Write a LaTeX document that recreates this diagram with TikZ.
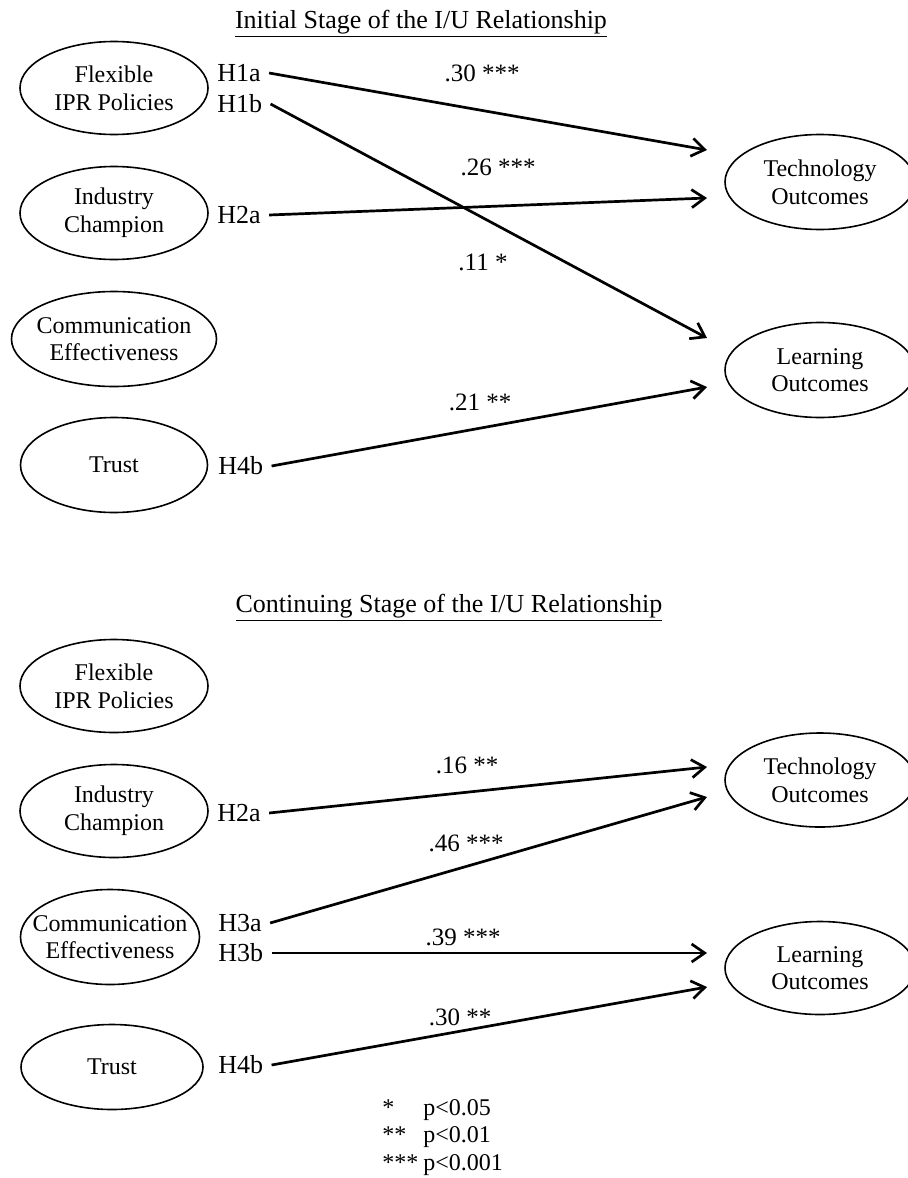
\documentclass[tikz,border=0pt]{standalone}
\usepackage{fontspec}
\setmainfont{Liberation Serif}
\usetikzlibrary{shapes.geometric, arrows.meta}

\begin{document}
\begin{tikzpicture}[x=0.5pt, y=-0.5pt,
    every node/.style={font=\fontsize{12}{13.8}\selectfont},
    construct/.style={ellipse,draw,line width=0.8pt,align=center,
        inner xsep=-8pt,inner ysep=0pt},
    hyp/.style={anchor=west,inner xsep=4pt,inner ysep=1pt,
        font=\fontsize{13}{15}\selectfont},
    coef/.style={inner sep=1pt,font=\fontsize{12.5}{14}\selectfont},
    stagetitle/.style={anchor=base,inner sep=0pt,
        font=\fontsize{13}{15}\selectfont},
    effect/.style={-{Straight Barb[length=6.5pt,width=9pt]},line width=1.35pt}
]
\useasboundingbox (0,0) rectangle (907,1178);

% initial stage
\node[stagetitle] (title1) at (421,28) {\underline{Initial Stage of the I/U Relationship}};
\node[construct, minimum width=94pt, minimum height=46.5pt] (flex1) at (114,88)
    {Flexible\\IPR Policies};
\node[construct, minimum width=94pt, minimum height=46.5pt] (ind1) at (114,213)
    {Industry\\Champion};
\node[construct, minimum width=102.5pt, minimum height=47.5pt] (comm1) at (114,339)
    {Communication\\Effectiveness};
\node[construct, minimum width=93.5pt, minimum height=47.5pt] (trust1) at (114,465)
    {Trust};
\node[construct, minimum width=95pt, minimum height=47.5pt] (tech1) at (820,182)
    {Technology\\Outcomes};
\node[construct, minimum width=95pt, minimum height=47.5pt] (learn1) at (820,370)
    {Learning\\Outcomes};

\node[hyp] (h1a1) at (209,73) {H1a};
\node[hyp] (h1b1) at (209,104) {H1b};
\node[hyp] (h2a1) at (209,215) {H2a};
\node[hyp] (h4b1) at (210,466) {H4b};

\coordinate (tipA1) at (707,150);
\coordinate (tipB1) at (707,338);
\coordinate (tipC1) at (707,198);
\coordinate (tipD1) at (707,387);

\draw[effect] (h1a1.east) -- (tipA1);
\draw[effect] (h1b1.east) -- (tipB1);
\draw[effect] (h2a1.east) -- (tipC1);
\draw[effect] (h4b1.east) -- (tipD1);

\node[coef] (c1) at (482,73) {.30 ***};
\node[coef] (c2) at (498,167) {.26 ***};
\node[coef] (c3) at (483,262) {.11 *};
\node[coef] (c4) at (480,402) {.21 **};

% continuing stage
\node[stagetitle] (title2) at (449,612) {\underline{Continuing Stage of the I/U Relationship}};
\node[construct, minimum width=94pt, minimum height=46.5pt] (flex2) at (114,686)
    {Flexible\\IPR Policies};
\node[construct, minimum width=94pt, minimum height=46.5pt] (ind2) at (114,811)
    {Industry\\Champion};
\node[construct, minimum width=89.5pt, minimum height=47.5pt] (comm2) at (110,937)
    {Communication\\Effectiveness};
\node[construct, minimum width=91pt, minimum height=42.5pt] (trust2) at (112,1067)
    {Trust};
\node[construct, minimum width=95pt, minimum height=47pt] (tech2) at (820,780)
    {Technology\\Outcomes};
\node[construct, minimum width=95pt, minimum height=46.5pt] (learn2) at (820,968)
    {Learning\\Outcomes};

\node[hyp] (h2a2) at (209,813) {H2a};
\node[hyp] (h3a2) at (210,923) {H3a};
\node[hyp] (h3b2) at (210,953) {H3b};
\node[hyp] (h4b2) at (210,1065) {H4b};

\coordinate (tipA2) at (707,767);
\coordinate (tipB2) at (707,797);
\coordinate (tipC2) at (707,953);
\coordinate (tipD2) at (707,987);

\draw[effect] (h2a2.east) -- (tipA2);
\draw[effect] (h3a2.east) -- (tipB2);
\draw[effect] (h3b2.east) -- (tipC2);
\draw[effect] (h4b2.east) -- (tipD2);

\node[coef] (c5) at (467,765) {.16 **};
\node[coef] (c6) at (466,843) {.46 ***};
\node[coef] (c7) at (463,937) {.39 ***};
\node[coef] (c8) at (460,1017) {.30 **};

% significance levels
\node[anchor=base west, inner sep=0pt] (legend) at (382,1115)
    {\begin{tabular}[t]{@{}l@{\hspace{2.5pt}}l@{}}
     {*}   & p<0.05\\
     {**}  & p<0.01\\
     {***} & p<0.001
     \end{tabular}};
\end{tikzpicture}
\end{document}
